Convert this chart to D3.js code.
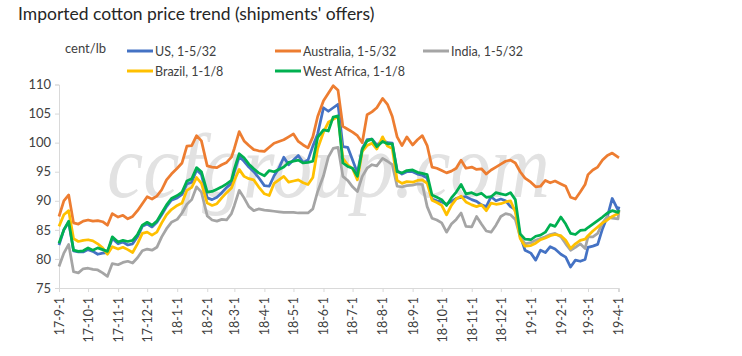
<!DOCTYPE html>
<html><head><meta charset="utf-8">
<script src="https://cdn.jsdelivr.net/npm/d3@7"></script>
<style>
body{margin:0;background:#fff}
svg{display:block}
text{font-family:Lato,"Noto Sans",sans-serif}
</style>
</head><body>
<svg id="c" width="742" height="356"></svg>
<script>
const dates = [
"2017-09-01","2017-09-06","2017-09-11","2017-09-16","2017-09-21","2017-09-26",
"2017-10-01","2017-10-06","2017-10-11","2017-10-16","2017-10-21","2017-10-26",
"2017-11-01","2017-11-06","2017-11-11","2017-11-16","2017-11-21","2017-11-26",
"2017-12-01","2017-12-06","2017-12-11","2017-12-16","2017-12-21","2017-12-26",
"2018-01-01","2018-01-06","2018-01-11","2018-01-16","2018-01-21","2018-01-26",
"2018-02-01","2018-02-06","2018-02-11","2018-02-16","2018-02-21","2018-02-26",
"2018-03-01","2018-03-06","2018-03-11","2018-03-16","2018-03-21","2018-03-26",
"2018-04-01","2018-04-06","2018-04-11","2018-04-16","2018-04-21","2018-04-26",
"2018-05-01","2018-05-06","2018-05-11","2018-05-16","2018-05-21","2018-05-26",
"2018-06-01","2018-06-06","2018-06-11","2018-06-16","2018-06-21","2018-06-26",
"2018-07-01","2018-07-06","2018-07-11","2018-07-16","2018-07-21","2018-07-26",
"2018-08-01","2018-08-06","2018-08-11","2018-08-16","2018-08-21","2018-08-26",
"2018-09-01","2018-09-06","2018-09-11","2018-09-16","2018-09-21","2018-09-26",
"2018-10-01","2018-10-06","2018-10-11","2018-10-16","2018-10-21","2018-10-26",
"2018-11-01","2018-11-06","2018-11-11","2018-11-16","2018-11-21","2018-11-26",
"2018-12-01","2018-12-06","2018-12-11","2018-12-16","2018-12-21","2018-12-26",
"2019-01-01","2019-01-06","2019-01-11","2019-01-16","2019-01-21","2019-01-26",
"2019-02-01","2019-02-06","2019-02-11","2019-02-16","2019-02-21","2019-02-26",
"2019-03-01","2019-03-06","2019-03-11","2019-03-16","2019-03-21","2019-03-26",
"2019-04-01","2019-04-02"];

const us = [
82.4,85.0,86.3,81.4,81.2,81.2,
81.6,81.3,80.8,81.0,81.1,83.5,
82.6,82.9,82.4,82.6,83.8,85.6,
86.0,85.5,86.3,87.6,89.0,90.1,
90.5,91.1,92.9,93.2,95.3,94.5,
90.5,90.2,90.6,91.4,92.3,93.0,
95.0,97.6,96.8,95.8,95.0,94.0,
92.6,92.5,94.3,95.6,97.5,96.2,
97.0,97.8,96.6,97.0,99.4,101.5,
106.0,105.4,106.0,106.6,99.3,99.2,
97.0,94.8,99.0,100.5,100.6,99.6,
100.4,100.0,99.9,95.2,94.6,95.0,
95.0,94.6,94.4,93.9,90.3,90.0,
89.8,89.4,89.9,90.4,90.6,90.7,
90.2,89.9,89.3,89.0,90.7,90.0,
90.3,90.0,89.0,88.5,84.0,81.5,
81.0,79.8,81.5,81.1,82.1,81.7,
80.8,80.3,78.6,79.8,79.6,79.9,
82.0,82.2,82.5,85.2,87.3,90.4,
88.4,89.0];

const australia = [
87.3,90.0,91.0,86.2,86.0,86.5,
86.7,86.5,86.6,86.4,85.8,87.8,
87.2,87.5,86.9,87.3,88.3,89.5,
90.7,90.3,90.8,91.9,93.6,94.6,
95.6,96.5,99.4,99.5,101.2,100.3,
96.0,95.8,95.7,96.2,96.6,97.5,
99.0,101.9,100.3,99.5,98.8,98.6,
98.5,99.2,99.9,100.2,100.5,101.0,
101.5,100.2,99.6,99.1,101.0,104.5,
107.2,108.5,109.8,109.0,102.8,102.3,
101.8,101.2,100.0,104.8,105.3,106.0,
107.6,106.6,104.5,101.0,99.5,101.0,
99.6,100.5,101.2,99.5,95.8,95.6,
95.2,94.8,95.1,95.6,97.0,95.6,
95.8,95.4,95.5,94.6,95.3,95.8,
96.3,96.8,97.0,96.5,95.0,93.9,
93.2,92.4,92.5,93.5,93.1,93.4,
92.9,92.5,90.6,90.3,91.5,92.8,
94.5,95.3,95.8,97.0,97.8,98.2,
97.5,97.4];

const india = [
78.7,81.0,82.5,77.8,77.6,78.3,
78.4,78.2,78.1,77.6,77.0,79.2,
79.0,79.4,79.6,79.3,80.2,81.4,
81.7,81.5,82.0,83.8,85.2,86.3,
86.8,87.9,89.4,90.2,92.4,91.5,
87.4,86.7,86.5,86.8,86.7,87.8,
89.2,91.8,90.5,89.0,88.3,88.6,
88.4,88.3,88.2,88.1,88.0,88.0,
88.0,87.9,87.9,87.9,88.6,91.6,
94.3,97.5,99.0,99.2,94.2,93.5,
92.4,91.6,94.2,95.6,96.2,96.0,
97.3,96.8,96.2,92.5,92.4,92.6,
92.7,92.9,92.8,89.0,87.0,86.7,
86.2,84.6,86.0,86.8,87.9,85.6,
85.5,87.3,86.0,84.8,84.6,85.8,
87.3,87.8,87.6,86.8,83.8,82.6,
82.8,83.2,83.5,83.8,84.2,84.4,
83.8,82.6,81.5,82.0,82.6,81.8,
83.8,83.8,84.4,86.2,87.3,87.0,
86.9,88.4];

const brazil = [
85.6,87.6,88.3,83.5,83.0,83.2,
83.3,83.1,82.6,81.9,80.8,82.1,
81.7,82.0,81.6,81.1,82.6,84.4,
84.6,84.1,84.6,86.2,87.6,88.5,
89.2,89.6,91.8,92.3,94.0,93.0,
89.6,89.2,89.5,90.5,91.4,92.2,
93.5,95.4,94.2,93.8,93.6,92.4,
91.2,90.9,93.0,93.6,94.2,93.2,
93.4,93.6,93.1,92.8,94.0,99.0,
101.8,103.5,104.0,104.5,97.3,96.2,
95.5,93.6,98.5,99.5,99.9,98.9,
101.0,99.4,99.0,93.5,93.0,93.3,
93.2,93.5,93.6,93.0,90.1,89.7,
89.2,87.6,89.2,90.3,90.8,89.8,
89.3,89.0,89.3,88.3,89.6,89.4,
89.5,89.8,90.0,88.1,83.5,82.2,
82.3,82.7,83.3,83.6,84.0,84.2,
84.0,83.2,81.8,82.6,83.2,83.4,
84.0,84.8,85.5,86.2,86.7,87.3,
87.8,88.2];

const westAfrica = [
82.7,85.0,86.5,81.5,81.3,81.4,
81.9,81.5,81.9,81.6,81.3,83.8,
82.9,83.2,83.0,83.2,84.2,85.8,
86.3,85.8,86.5,87.9,89.3,90.4,
90.9,91.5,93.4,93.8,95.7,95.0,
91.5,91.6,92.0,92.4,92.9,93.5,
95.5,98.1,97.4,96.3,95.5,94.8,
94.3,95.2,95.0,95.4,95.8,96.6,
96.8,97.0,96.5,96.6,96.8,100.9,
102.2,102.0,104.4,104.6,96.5,95.9,
95.6,94.2,98.8,100.3,100.6,99.3,
100.2,99.8,99.8,95.0,94.8,95.2,
95.3,94.9,94.7,94.5,91.0,90.6,
90.2,89.2,90.5,91.5,92.8,91.2,
91.4,91.0,91.3,90.6,90.7,91.4,
91.2,91.0,91.4,90.2,84.3,83.4,
83.3,83.9,84.1,84.6,85.9,85.6,
87.2,86.0,84.4,84.2,84.9,85.0,
85.4,86.0,86.6,87.2,87.9,88.3,
88.0,88.4];

const seriesNames = ["US, 1-5/32","Australia, 1-5/32","India, 1-5/32","Brazil, 1-1/8","West Africa, 1-1/8"];
const seriesValues = [us, australia, india, brazil, westAfrica];
const colors = ["#4472C4","#ED7D31","#A5A5A5","#FFC000","#00B050"];
const yTicks = [75,80,85,90,95,100,105,110];
const titleText = "Imported cotton price trend (shipments' offers)";
const unitText = "cent/lb";
const watermarkText = "ccfgroup.com";

const svg = d3.select("#c");
const parse = d3.timeParse("%Y-%m-%d");
const dt = dates.map(parse);

const x = d3.scaleTime().domain([dt[0], dt[dt.length-1]]).range([59, 619]);
const y = d3.scaleLinear().domain([75,110]).range([288, 84.5]);

// watermark
svg.append("text")
  .attr("x",107).attr("y",197)
  .attr("textLength",443).attr("lengthAdjust","spacingAndGlyphs")
  .style("font-family","'Liberation Serif','DejaVu Serif',serif")
  .style("font-style","italic")
  .style("font-size","92px")
  .attr("fill","#e2e2e2")
  .text(watermarkText);

// title
svg.append("text").attr("x",18).attr("y",20)
  .style("font-size","17.5px").attr("fill","#262626")
  .text(titleText);

// axes
const yAxis = svg.append("g").attr("transform","translate(59,0)")
  .call(d3.axisLeft(y).tickValues(yTicks).tickSize(4).tickPadding(4));
yAxis.selectAll("path,line").attr("stroke","#d9d9d9");
yAxis.selectAll("text").style("font-size","13px").attr("fill","#404040").style("font-family","Lato,'Noto Sans',sans-serif");

const xAxis = svg.append("g").attr("transform","translate(0,288)")
  .call(d3.axisBottom(x).ticks(d3.timeMonth.every(1)).tickFormat(d3.timeFormat("%y-%-m-%-d")).tickSize(4));
xAxis.selectAll("path,line").attr("stroke","#d9d9d9");
xAxis.selectAll("text")
  .attr("transform","rotate(-90)")
  .attr("x",-9).attr("y",0).attr("dy","0.35em")
  .style("text-anchor","end")
  .style("font-size","12.5px").attr("fill","#404040").style("font-family","Lato,'Noto Sans',sans-serif");

// lines
const line = d3.line().x(d=>x(d[0])).y(d=>y(d[1]));
seriesValues.forEach((vals,i)=>{
  svg.append("path")
    .datum(dt.map((d,j)=>[d, vals[j]]))
    .attr("d", line)
    .attr("fill","none")
    .attr("stroke", colors[i])
    .attr("stroke-width", 2.75)
    .attr("stroke-linejoin","round");
});

// legend
svg.append("text").attr("x",65).attr("y",53).style("font-size","13px").attr("fill","#404040").text(unitText);
const legendPos = [[127,51],[275,51],[423,51],[127,71],[275,71]];
seriesNames.forEach((n,i)=>{
  const [lx,ly] = legendPos[i];
  svg.append("line").attr("x1",lx).attr("x2",lx+26).attr("y1",ly).attr("y2",ly)
    .attr("stroke",colors[i]).attr("stroke-width",3);
  svg.append("text").attr("x",lx+28).attr("y",ly+4.5)
    .style("font-size","12.5px").attr("fill","#404040").text(n);
});
</script>
</body></html>
